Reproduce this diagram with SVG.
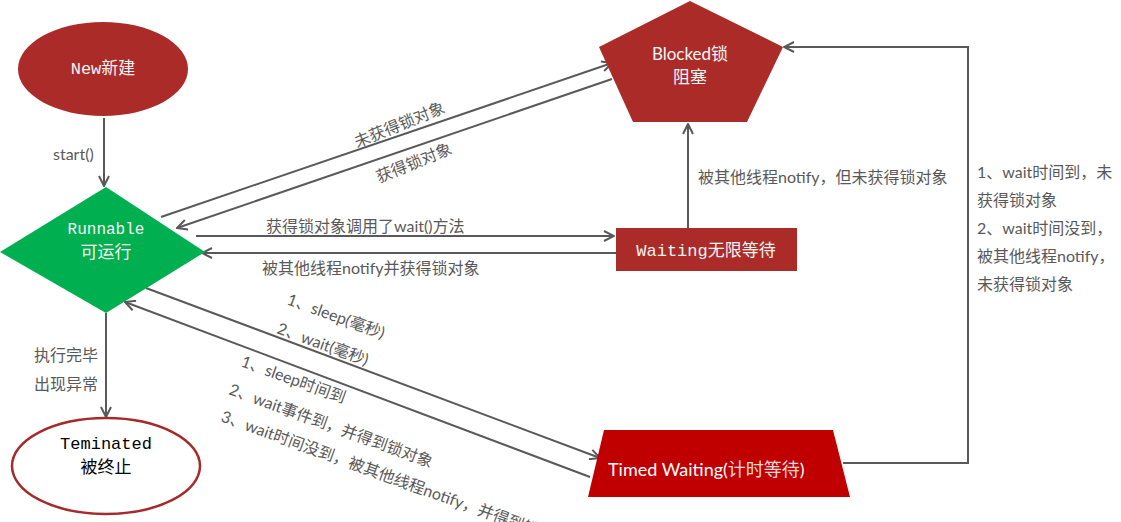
<svg xmlns="http://www.w3.org/2000/svg" width="1121" height="522" viewBox="0 0 1121 522">
<style>
.lbl{font-family:"Lato","Noto Sans CJK SC",sans-serif;font-size:16px;fill:#595959}
.mono{font-family:"Liberation Mono","Noto Sans CJK SC",monospace}
.sans{font-family:"Lato","Noto Sans CJK SC",sans-serif}
.edge{fill:none;stroke:#595959;stroke-width:2}
</style>
<defs>
<marker id="arr" viewBox="0 0 12 12" refX="11" refY="6" markerWidth="12" markerHeight="12" orient="auto" markerUnits="userSpaceOnUse">
<path d="M1,1 L11,6 L1,11" fill="none" stroke="#595959" stroke-width="2"/>
</marker>
</defs>
<rect width="1121" height="522" fill="#ffffff"/>

<g id="connectors">
<line class="edge" x1="104" y1="118" x2="104" y2="186" marker-end="url(#arr)"/>
<line class="edge" x1="161" y1="217" x2="612" y2="63" marker-end="url(#arr)"/>
<line class="edge" x1="612" y1="79" x2="177" y2="228" marker-end="url(#arr)"/>
<line class="edge" x1="196" y1="236" x2="614" y2="236" marker-end="url(#arr)"/>
<line class="edge" x1="616" y1="253" x2="202" y2="253" marker-end="url(#arr)"/>
<line class="edge" x1="688" y1="228" x2="688" y2="124" marker-end="url(#arr)"/>
<polyline class="edge" points="843,463 968,463 968,47 784,47" marker-end="url(#arr)"/>
<line class="edge" x1="146" y1="288" x2="600" y2="458" marker-end="url(#arr)"/>
<line class="edge" x1="590" y1="477" x2="125" y2="302" marker-end="url(#arr)"/>
<line class="edge" x1="106" y1="313" x2="106" y2="417" marker-end="url(#arr)"/>
</g>

<g id="edge-labels">
<text class="lbl" x="53" y="160">start()</text>
<text class="lbl" transform="translate(357,148) rotate(-22)">未获得锁对象</text>
<text class="lbl" transform="translate(379,183) rotate(-22)">获得锁对象</text>
<text class="lbl" x="266" y="232">获得锁对象调用了wait()方法</text>
<text class="lbl" x="262" y="274">被其他线程notify并获得锁对象</text>
<text class="lbl" x="698" y="183">被其他线程notify，但未获得锁对象</text>
<text class="lbl" x="977" y="178">1、wait时间到，未</text>
<text class="lbl" x="977" y="206">获得锁对象</text>
<text class="lbl" x="977" y="234">2、wait时间没到，</text>
<text class="lbl" x="977" y="262">被其他线程notify，</text>
<text class="lbl" x="977" y="290">未获得锁对象</text>
<text class="lbl" x="34" y="361">执行完毕</text>
<text class="lbl" x="34" y="390">出现异常</text>
<text class="lbl" transform="translate(286,304) rotate(20)">1、sleep(毫秒)</text>
<text class="lbl" transform="translate(276,333) rotate(20)">2、wait(毫秒)</text>
<text class="lbl" transform="translate(240,366) rotate(20)">1、sleep时间到</text>
<text class="lbl" transform="translate(228,394) rotate(20)">2、wait事件到，并得到锁对象</text>
<text class="lbl" transform="translate(220,421) rotate(20)">3、wait时间没到，被其他线程notify，并得到锁对象</text>
</g>

<g id="node-new">
<ellipse cx="103" cy="69" rx="85" ry="47" fill="#AB2B28"/>
<text class="mono" x="103" y="74" font-size="17" fill="#F4F4F4" text-anchor="middle">New新建</text>
</g>

<g id="node-runnable">
<polygon points="106,187 205,252 106,313 0,252" fill="#00B050"/>
<text class="mono" x="106" y="234" font-size="16" fill="#F4F4F4" text-anchor="middle">Runnable</text>
<text class="mono" x="106" y="258" font-size="17" fill="#F4F4F4" text-anchor="middle">可运行</text>
</g>

<g id="node-blocked">
<polygon points="690,1 783,47 747,122 633,122 599,47" fill="#AB2B28"/>
<text class="sans" x="690" y="60" font-size="17" fill="#F4F4F4" text-anchor="middle">Blocked锁</text>
<text class="sans" x="690" y="83" font-size="17" fill="#F4F4F4" text-anchor="middle">阻塞</text>
</g>

<g id="node-waiting">
<rect x="616" y="228" width="181" height="43" fill="#AB2B28"/>
<text class="mono" x="706" y="256" font-size="17" fill="#F4F4F4" text-anchor="middle">Waiting无限等待</text>
</g>

<g id="node-timed">
<polygon points="604,430 833,430 850,497 588,497" fill="#C00000"/>
<text class="sans" x="608" y="476" font-size="18" fill="#FFFFFF">Timed Waiting(<tspan fill="#F6D6D6">计时等待</tspan>)</text>
</g>

<g id="node-terminated">
<ellipse cx="106" cy="466" rx="94" ry="48" fill="#FFFFFF" stroke="#A52A2A" stroke-width="2.5"/>
<text class="mono" x="106" y="449" font-size="17" fill="#000000" text-anchor="middle">Teminated</text>
<text class="mono" x="106" y="473" font-size="17" fill="#000000" text-anchor="middle">被终止</text>
</g>
</svg>
